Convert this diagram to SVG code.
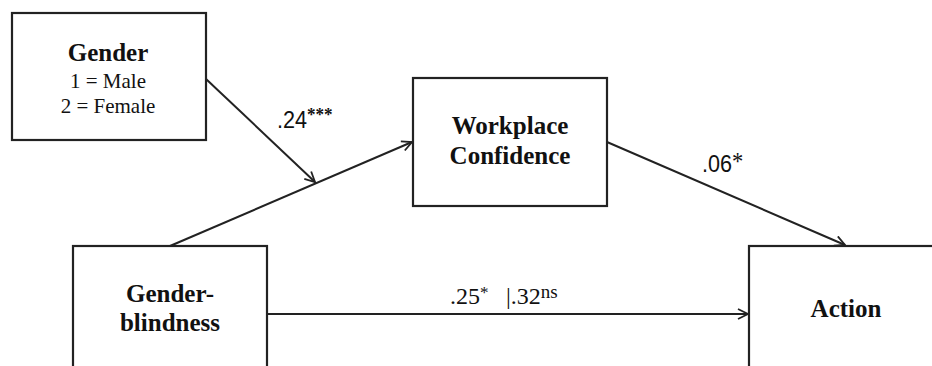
<svg xmlns="http://www.w3.org/2000/svg" width="932" height="366" viewBox="0 0 932 366">
<defs>
<style>
.box{fill:#fff;stroke:#222;stroke-width:2.2}
.t{font-family:"Liberation Serif","Times New Roman",serif;fill:#111;text-anchor:middle}
.b{font-weight:bold;font-size:25px}
.n{font-size:21px}
.lab{font-family:"Liberation Sans",Arial,sans-serif;fill:#111;font-size:24px}
.sup{font-family:"Liberation Serif","Times New Roman",serif;fill:#111}
.labs{font-family:"Liberation Serif","Times New Roman",serif;fill:#111;font-size:24px}
.edge{stroke:#222;stroke-width:2;fill:none;marker-end:url(#ah)}
</style>
<marker id="ah" viewBox="0 0 12 12" refX="11" refY="6" markerWidth="12" markerHeight="12" markerUnits="userSpaceOnUse" orient="auto">
<path d="M1,1 L11,6 L1,11" fill="none" stroke="#222" stroke-width="1.8"/>
</marker>
</defs>
<rect width="932" height="366" fill="#fff"/>
<g id="gender">
<rect class="box" x="12" y="13" width="194" height="127"/>
<text class="t b" x="108" y="61">Gender</text>
<text class="t n" x="108" y="88">1 = Male</text>
<text class="t n" x="108" y="113">2 = Female</text>
</g>
<g id="workplace-confidence">
<rect class="box" x="413" y="78" width="194" height="128"/>
<text class="t b" x="510" y="134">Workplace</text>
<text class="t b" x="510" y="164">Confidence</text>
</g>
<g id="gender-blindness">
<rect class="box" x="73" y="246" width="194" height="140"/>
<text class="t b" x="170" y="302">Gender-</text>
<text class="t b" x="170" y="331">blindness</text>
</g>
<g id="action">
<rect class="box" x="749" y="246" width="200" height="140"/>
<text class="t b" x="846" y="317">Action</text>
</g>
<g id="connectors">
<line class="edge" x1="206" y1="79" x2="315" y2="182"/>
<line class="edge" x1="170" y1="246" x2="412" y2="142"/>
<line class="edge" x1="607" y1="142" x2="845" y2="245"/>
<line class="edge" x1="267" y1="314" x2="748" y2="314"/>
</g>
<g id="labels">
<text class="lab" transform="translate(277,128) scale(0.9,1)">.24<tspan class="sup" font-size="19" font-weight="bold" dy="-7">***</tspan></text>
<text class="lab" transform="translate(702,172) scale(0.9,1)">.06<tspan class="sup" font-size="25" dy="-2">*</tspan></text>
<text class="labs" x="450" y="304">.25<tspan font-size="17" dy="-6">*</tspan><tspan font-size="24" dy="6" x="506">|.32</tspan><tspan font-size="19" dy="-6">ns</tspan></text>
</g>
</svg>
